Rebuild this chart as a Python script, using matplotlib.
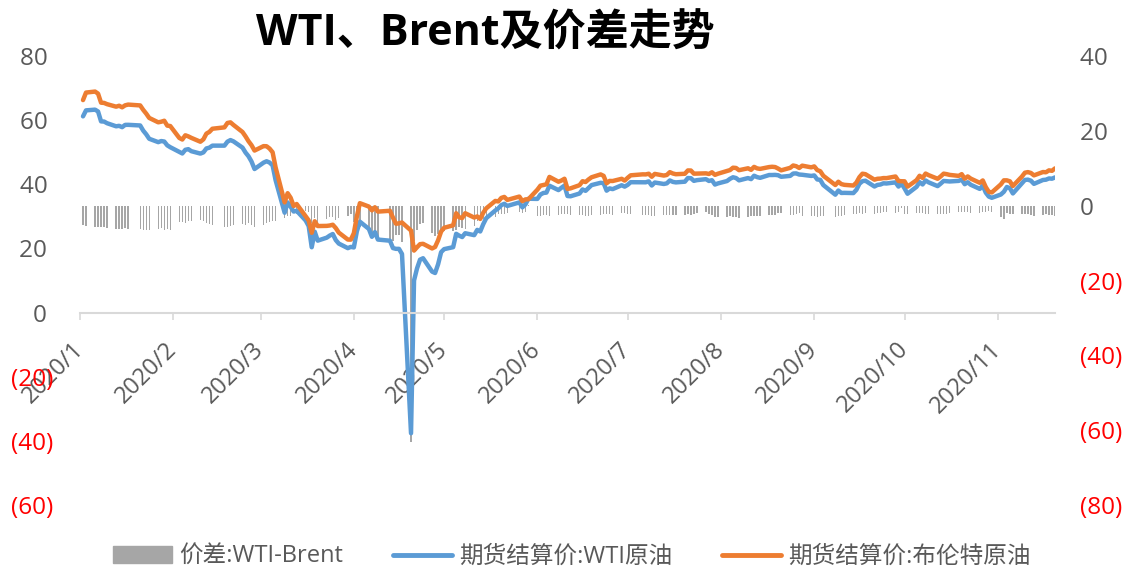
import matplotlib
matplotlib.use('Agg')
import numpy as np
import pandas as pd
import matplotlib.pyplot as plt
import matplotlib.dates as mdates
from matplotlib.patches import Patch
from matplotlib.lines import Line2D

plt.rcParams['font.family'] = ['Open Sans', 'Noto Sans CJK SC', 'DejaVu Sans']

# US trading days, 2020-01-02 .. 2020-11-20
holidays = ['2020-01-20', '2020-02-17', '2020-04-10', '2020-05-25', '2020-07-03', '2020-09-07']

# 期货结算价:WTI原油 (one row per month)
wti = [
    61.18, 63.05, 63.27, 62.70, 59.61, 59.56, 59.04, 58.08, 58.23, 57.81, 58.52, 58.54, 58.34, 56.74, 55.59, 54.19, 53.14, 53.48, 53.33, 52.14, 51.56,
    50.11, 49.61, 50.75, 50.95, 50.32, 49.57, 49.94, 51.17, 51.42, 52.05, 52.05, 53.29, 53.78, 53.38, 51.43, 49.90, 48.73, 47.09, 44.76,
    46.75, 47.18, 46.78, 45.90, 41.28, 31.13, 34.36, 32.98, 31.50, 31.73, 28.70, 26.95, 20.37, 25.22, 22.43, 23.36, 24.01, 24.49, 22.60, 21.51, 20.09, 20.48,
    20.31, 25.32, 28.34, 26.08, 23.63, 25.09, 22.76, 22.41, 20.11, 19.87, 19.87, 18.27, -37.63, 10.01, 13.78, 16.50, 16.94, 12.78, 12.34, 15.06, 18.84,
    19.78, 20.39, 24.56, 23.99, 23.55, 24.74, 24.14, 25.78, 25.29, 27.56, 29.43, 31.82, 32.50, 33.49, 33.92, 33.25, 34.35, 32.81, 33.71, 35.49,
    35.44, 36.81, 37.29, 37.41, 39.55, 38.19, 38.94, 39.60, 36.34, 36.26, 37.12, 38.38, 37.96, 38.84, 39.75, 40.46, 40.37, 38.01, 38.72, 38.49, 39.70, 39.27,
    39.82, 40.65, 40.63, 40.62, 40.90, 39.62, 40.55, 40.10, 40.29, 41.20, 40.75, 40.59, 40.81, 41.96, 41.90, 41.07, 41.29, 41.60, 41.04, 41.27, 39.92, 40.27,
    41.01, 41.70, 42.19, 41.95, 41.22, 41.94, 41.61, 42.67, 42.24, 42.01, 42.89, 42.89, 42.93, 42.82, 42.34, 42.62, 43.35, 43.39, 43.04, 42.97, 42.61,
    42.76, 41.51, 41.37, 39.77, 36.76, 38.05, 37.30, 37.33, 37.26, 38.28, 40.16, 40.97, 41.11, 39.31, 39.80, 39.93, 40.31, 40.25, 40.60, 39.29, 40.22,
    38.72, 37.05, 39.22, 40.67, 39.95, 41.19, 40.60, 39.43, 40.20, 41.04, 40.96, 40.88, 41.06, 41.46, 40.03, 40.64, 39.85, 38.56, 39.57, 37.39, 36.17, 35.79,
    36.81, 37.66, 39.15, 38.79, 37.14, 40.29, 41.36, 41.45, 41.12, 40.13, 41.34, 41.43, 41.82, 41.74, 42.15,
]

# 期货结算价:布伦特原油
brent = [
    66.25, 68.60, 68.91, 68.27, 65.44, 65.37, 64.98, 64.20, 64.49, 64.00, 64.62, 64.85, 64.59, 63.21, 62.04, 60.69, 59.32, 59.51, 59.81, 58.29, 58.16,
    54.45, 53.96, 55.28, 54.93, 54.47, 53.27, 54.01, 55.79, 56.34, 57.32, 57.75, 59.12, 59.31, 58.50, 56.30, 54.95, 53.43, 52.18, 50.52,
    51.90, 51.86, 51.13, 49.99, 45.27, 34.36, 37.22, 35.79, 33.22, 33.85, 30.05, 28.73, 24.88, 28.47, 26.98, 27.03, 27.15, 27.39, 26.34, 24.93, 22.76, 22.74,
    24.74, 29.94, 34.11, 33.05, 31.87, 32.84, 31.48, 31.74, 29.60, 27.69, 27.82, 28.08, 25.57, 19.33, 20.37, 21.33, 21.44, 19.99, 20.46, 22.54, 25.27,
    26.44, 27.20, 30.97, 29.72, 29.46, 30.97, 29.63, 29.98, 29.19, 31.13, 32.50, 34.81, 34.65, 35.75, 36.06, 35.13, 36.17, 34.74, 35.29, 35.33,
    38.32, 39.57, 39.79, 39.99, 42.30, 40.80, 41.18, 41.73, 38.55, 38.73, 39.72, 40.96, 40.71, 41.51, 42.19, 43.08, 42.63, 40.31, 41.05, 41.02, 41.71, 41.15,
    42.03, 42.80, 43.10, 43.08, 43.29, 42.35, 43.24, 42.72, 42.90, 43.79, 43.37, 43.14, 43.28, 44.32, 44.29, 43.31, 43.34, 43.41, 43.22, 43.75, 42.94, 43.30,
    44.15, 44.43, 45.17, 45.09, 44.40, 44.99, 44.50, 45.43, 44.96, 44.80, 45.37, 45.46, 45.37, 44.90, 44.35, 45.13, 45.86, 45.64, 45.09, 45.81, 45.28,
    45.58, 44.43, 44.07, 42.66, 39.78, 40.79, 40.06, 39.83, 39.61, 40.53, 42.22, 43.30, 43.15, 41.44, 41.72, 41.77, 41.94, 41.92, 42.43, 41.03, 40.95,
    40.93, 39.27, 41.29, 42.65, 41.99, 43.34, 42.85, 41.72, 42.45, 43.32, 43.16, 42.93, 42.62, 43.16, 41.73, 42.46, 41.77, 40.46, 41.20, 39.12, 37.65, 37.46,
    39.97, 41.23, 41.23, 40.93, 39.45, 42.40, 43.61, 43.80, 43.53, 42.78, 43.82, 43.75, 44.34, 44.20, 44.96,
]

left_ticks = [80, 60, 40, 20, 0, -20, -40, -60]
right_ticks = [40, 20, 0, -20, -40, -60, -80]

dates = pd.bdate_range('2020-01-02', '2020-11-20')
dates = dates[~dates.isin(pd.to_datetime(holidays))]
wti = np.array(wti)
brent = np.array(brent)
spread = wti - brent  # 价差:WTI-Brent


def fmt(v):
    return '(%d)' % abs(v) if v < 0 else '%d ' % v


GREY = '#595959'
fig = plt.figure(figsize=(11.24, 5.73), dpi=100)
ax = fig.add_axes([80 / 1124, 1 - 505 / 573, 975 / 1124, 449 / 573])
ax2 = ax.twinx()
ax.set_zorder(ax2.get_zorder() + 1)
ax.patch.set_visible(False)

ax2.bar(dates, spread, width=0.45, color='#a6a6a6')
ax.plot(dates, wti, color='#5b9bd5', lw=3.2, solid_joinstyle='round', solid_capstyle='round')
ax.plot(dates, brent, color='#ed7d31', lw=3.2, solid_joinstyle='round', solid_capstyle='round')

ax.set_xlim(pd.Timestamp('2020-01-01'), pd.Timestamp('2020-11-20'))
ax.set_ylim(-60, 80)
ax2.set_ylim(-80, 40)

for s in ax.spines.values():
    s.set_visible(False)
for s in ax2.spines.values():
    s.set_visible(False)
ax.spines['bottom'].set_visible(True)
ax.spines['bottom'].set_position(('data', 0))
ax.spines['bottom'].set_color('#d9d9d9')
ax.spines['bottom'].set_linewidth(1.5)

ax.xaxis.set_major_locator(mdates.MonthLocator())
ax.xaxis.set_major_formatter(plt.FuncFormatter(
    lambda x, p: '%d/%d' % (mdates.num2date(x).year, mdates.num2date(x).month)))
ax.tick_params(axis='x', length=5, width=1.2, color='#d9d9d9', labelsize=17,
               labelcolor=GREY, pad=19)
plt.setp(ax.get_xticklabels(), rotation=45, ha='right', va='center', rotation_mode='anchor')

ax.set_yticks(left_ticks, [fmt(v) for v in left_ticks])
ax.tick_params(axis='y', length=0, pad=19, labelsize=17.5)
for lbl, v in zip(ax.get_yticklabels(), left_ticks):
    lbl.set_color('red' if v < 0 else GREY)

ax2.set_yticks(right_ticks, [fmt(v) for v in right_ticks])
ax2.tick_params(axis='y', length=0, pad=18, labelsize=17.5)
for lbl, v in zip(ax2.get_yticklabels(), right_ticks):
    lbl.set_color('red' if v < 0 else GREY)

fig.text(485 / 1124, 1 - 34 / 573, 'WTI、Brent及价差走势', fontsize=31, fontweight='bold',
         ha='center', va='center', color='black')

handles = [Patch(color='#a6a6a6'),
           Line2D([], [], color='#5b9bd5', lw=3.5, solid_capstyle='round'),
           Line2D([], [], color='#ed7d31', lw=3.5, solid_capstyle='round')]
labels = ['价差:WTI-Brent', '期货结算价:WTI原油', '期货结算价:布伦特原油']
fig.legend(handles, labels, loc='center', bbox_to_anchor=(572 / 1124, 1 - 557 / 573), ncol=3,
           frameon=False, fontsize=17, handlelength=2.5, handletextpad=0.3, columnspacing=2.1,
           labelcolor=GREY)

fig.savefig('out.png', dpi=100)
